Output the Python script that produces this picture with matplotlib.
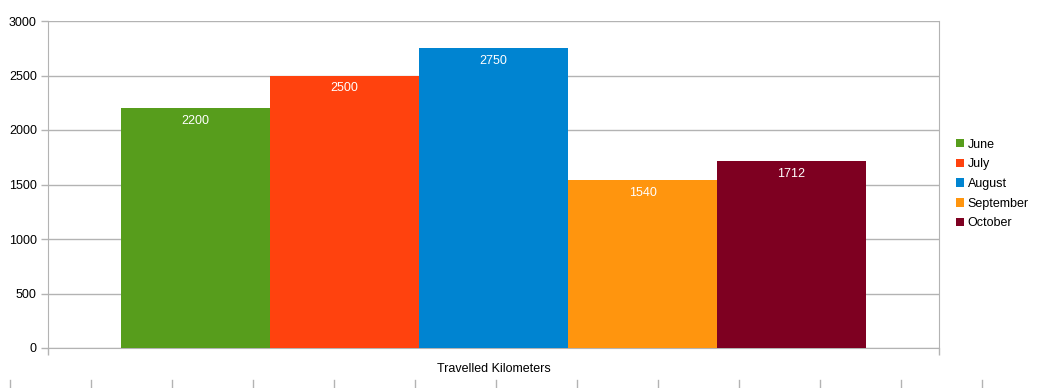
import matplotlib
matplotlib.use("Agg")
import matplotlib.pyplot as plt
from matplotlib.lines import Line2D
from matplotlib.patches import Patch

months = ["June", "July", "August", "September", "October"]
km = [2200, 2500, 2750, 1540, 1712]
colors = ["#579d1c", "#ff420e", "#0084d1", "#ff950e", "#7e0021"]
category = "Travelled Kilometers"
yticks = [0, 500, 1000, 1500, 2000, 2500, 3000]

plt.rcParams["font.family"] = ["Liberation Sans", "DejaVu Sans"]
GRID = "#b3b3b3"

fig = plt.figure(figsize=(10.37, 3.88), dpi=100)
ax = fig.add_axes([48 / 1037, 40 / 388, 891 / 1037, 327 / 388])

pos = list(range(len(months)))
bars = ax.bar(pos, km, width=1.0, color=colors, zorder=3)
for b, v in zip(bars, km):
    ax.annotate(str(v), (b.get_x() + b.get_width() / 2, v), xytext=(0, -5),
                textcoords="offset points", ha="center", va="top",
                color="white", fontsize=9, zorder=4)

pad = 73 / 149
ax.set_xlim(-0.5 - pad, len(months) - 0.5 + pad)
ax.set_ylim(0, 3000)
ax.set_yticks(yticks)
ax.set_yticklabels([str(t) for t in yticks], fontsize=9)
ax.set_xticks(ax.get_xlim())
ax.set_xticklabels([])
ax.tick_params(axis="both", direction="out", length=5, color=GRID, width=1)
ax.tick_params(axis="y", pad=3)
ax.grid(axis="y", color=GRID, lw=1, zorder=0)
for s in ["left", "right", "bottom"]:
    ax.spines[s].set_color(GRID)
ax.spines["top"].set_visible(False)
ax.text(0.5, -0.045, category, transform=ax.transAxes, ha="center",
        va="top", fontsize=9)

handles = [Patch(facecolor=c, edgecolor="none") for c in colors]
fig.legend(handles, months, loc="center left",
           bbox_to_anchor=(951 / 1037, 1 - 184 / 388), frameon=False,
           fontsize=9, handlelength=0.65, handleheight=0.65,
           handletextpad=0.3, labelspacing=0.62, borderaxespad=0)

# ruler ticks along the bottom edge
x = 10
while x < 1037:
    fig.add_artist(Line2D([x / 1037, x / 1037], [1 / 388, 8 / 388],
                          color=GRID, lw=1))
    x += 81

fig.savefig("out.png", dpi=100)
